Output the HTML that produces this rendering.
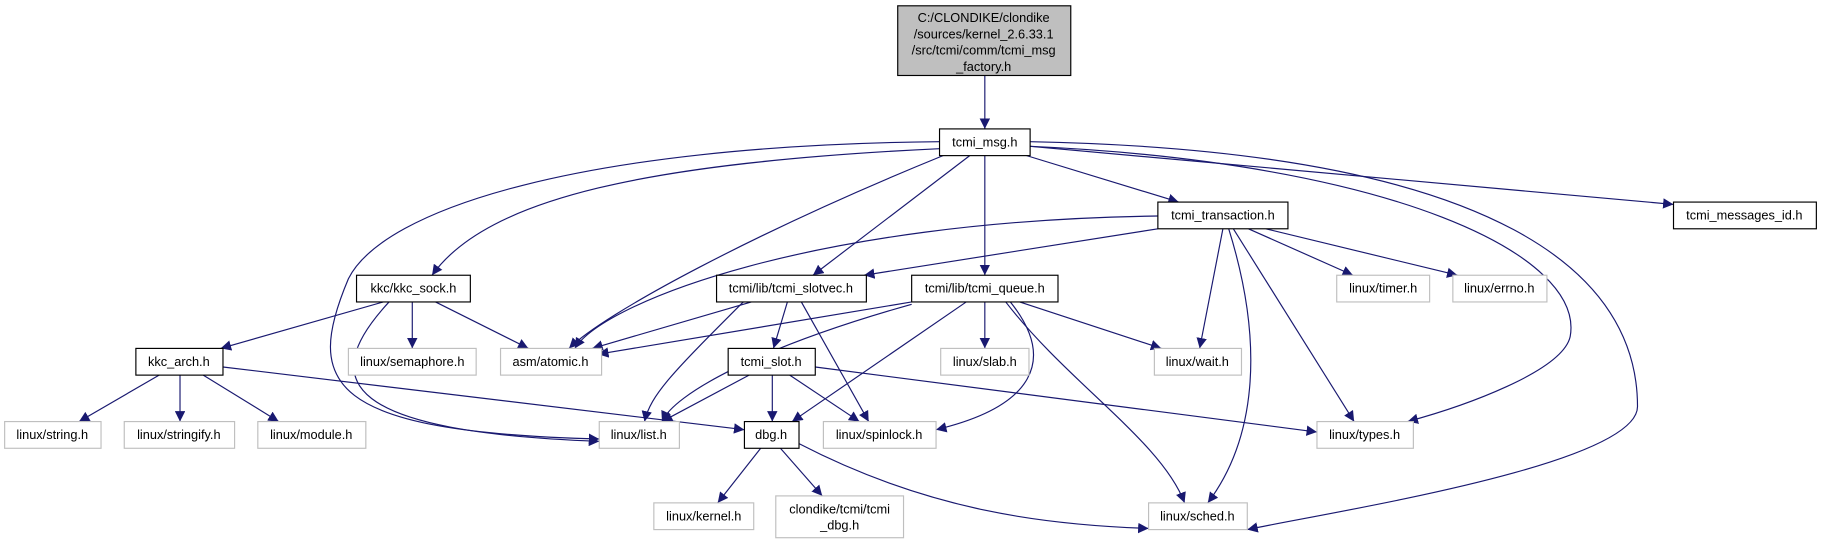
<!DOCTYPE html>
<html><head><meta charset="utf-8"><style>
html,body{margin:0;padding:0;background:#fff;}
svg{display:block;}
text{font-family:"Liberation Sans",sans-serif;font-size:11px;text-anchor:middle;fill:#000;}
</style></head><body>
<svg width="1821" height="547" viewBox="0 0 1568 471" preserveAspectRatio="none" xmlns="http://www.w3.org/2000/svg">
<defs>
<marker id="a" viewBox="0 0 10 10" refX="10" refY="5" markerWidth="9" markerHeight="9" markerUnits="userSpaceOnUse" orient="auto">
<path d="M0,0 L10,5 L0,10 z" fill="#191970"/></marker>
</defs>
<g fill="none" stroke="#191970" stroke-width="1" marker-end="url(#a)">
<path d="M848,65 L848,111"/>
<path d="M884,134 L1015,174"/>
<path d="M887,126 L1441,176"/>
<path d="M809,128 C560,140 420,170 372,237"/>
<path d="M809,122 C500,125 330,180 300,240 C262,330 280,372 516,378"/>
<path d="M812,134 C650,200 520,270 490,300"/>
<path d="M835,134 L700,237"/>
<path d="M848,134 L848,237"/>
<path d="M887,126 C1200,140 1365,220 1352,290 C1345,320 1260,350 1212,363"/>
<path d="M887,122 C1300,130 1410,240 1410,350 C1410,400 1150,440 1074,456"/>
<path d="M997,186 C700,190 520,260 495,300"/>
<path d="M997,197 L744,237"/>
<path d="M1075,197 L1165,237"/>
<path d="M1090,197 L1255,237"/>
<path d="M1053,197 L1033,300"/>
<path d="M1058,197 C1090,300 1080,380 1040,433"/>
<path d="M1062,197 L1166,363"/>
<path d="M330,260 L190,300"/>
<path d="M335,260 C270,330 300,372 516,380"/>
<path d="M355,260 L355,300"/>
<path d="M375,260 L455,300"/>
<path d="M647,260 L510,300"/>
<path d="M640,260 C580,320 560,340 555,363"/>
<path d="M678,260 L666,300"/>
<path d="M690,260 L748,363"/>
<path d="M785,260 L515,305"/>
<path d="M785,262 C650,300 580,340 570,363"/>
<path d="M832,260 L682,363"/>
<path d="M848,260 L848,300"/>
<path d="M878,260 L1000,300"/>
<path d="M870,260 C910,310 890,350 806,370"/>
<path d="M866,260 C920,330 1000,380 1020,433"/>
<path d="M137,323 L68,363"/>
<path d="M155,323 L155,363"/>
<path d="M175,323 L240,363"/>
<path d="M192,316 L641,370"/>
<path d="M645,323 L570,363"/>
<path d="M665,323 L665,363"/>
<path d="M680,323 L740,363"/>
<path d="M702,316 L1134,372"/>
<path d="M655,386 L618,433"/>
<path d="M672,386 L708,427"/>
<path d="M688,382 C800,440 900,452 989,455"/>
</g>
<g stroke-width="1">
<rect x="773" y="5" width="149" height="60" fill="#bfbfbf" stroke="#000"/>
<text x="847" y="19">C:/CLONDIKE/clondike</text>
<text x="847" y="33">/sources/kernel_2.6.33.1</text>
<text x="847" y="47">/src/tcmi/comm/tcmi_msg</text>
<text x="847" y="61">_factory.h</text>
</g>
<g fill="#fff" stroke="#000">
<rect x="809" y="111" width="78" height="23"/>
<rect x="997" y="174" width="112" height="23"/>
<rect x="1441" y="174" width="123" height="23"/>
<rect x="307" y="237" width="98" height="23"/>
<rect x="617" y="237" width="129" height="23"/>
<rect x="785" y="237" width="126" height="23"/>
<rect x="117" y="300" width="75" height="23"/>
<rect x="627" y="300" width="75" height="23"/>
<rect x="641" y="363" width="47" height="23"/>
</g>
<g fill="#fff" stroke="#bfbfbf">
<rect x="1151" y="237" width="80" height="23"/>
<rect x="1251" y="237" width="81" height="23"/>
<rect x="300" y="300" width="110" height="23"/>
<rect x="431" y="300" width="87" height="23"/>
<rect x="810" y="300" width="76" height="23"/>
<rect x="994" y="300" width="75" height="23"/>
<rect x="4" y="363" width="83" height="23"/>
<rect x="107" y="363" width="95" height="23"/>
<rect x="222" y="363" width="93" height="23"/>
<rect x="516" y="363" width="69" height="23"/>
<rect x="709" y="363" width="97" height="23"/>
<rect x="1134" y="363" width="83" height="23"/>
<rect x="563" y="433" width="86" height="23"/>
<rect x="668" y="427" width="110" height="36"/>
<rect x="989" y="433" width="85" height="23"/>
</g>
<g>
<text x="848" y="126">tcmi_msg.h</text>
<text x="1053" y="189">tcmi_transaction.h</text>
<text x="1502" y="189">tcmi_messages_id.h</text>
<text x="356" y="252">kkc/kkc_sock.h</text>
<text x="681" y="252">tcmi/lib/tcmi_slotvec.h</text>
<text x="848" y="252">tcmi/lib/tcmi_queue.h</text>
<text x="1191" y="252">linux/timer.h</text>
<text x="1291" y="252">linux/errno.h</text>
<text x="154" y="315">kkc_arch.h</text>
<text x="355" y="315">linux/semaphore.h</text>
<text x="474" y="315">asm/atomic.h</text>
<text x="664" y="315">tcmi_slot.h</text>
<text x="848" y="315">linux/slab.h</text>
<text x="1031" y="315">linux/wait.h</text>
<text x="45" y="378">linux/string.h</text>
<text x="154" y="378">linux/stringify.h</text>
<text x="268" y="378">linux/module.h</text>
<text x="550" y="378">linux/list.h</text>
<text x="664" y="378">dbg.h</text>
<text x="757" y="378">linux/spinlock.h</text>
<text x="1175" y="378">linux/types.h</text>
<text x="606" y="448">linux/kernel.h</text>
<text x="723" y="442">clondike/tcmi/tcmi</text>
<text x="723" y="456">_dbg.h</text>
<text x="1031" y="448">linux/sched.h</text>
</g>
</svg>
</body></html>
